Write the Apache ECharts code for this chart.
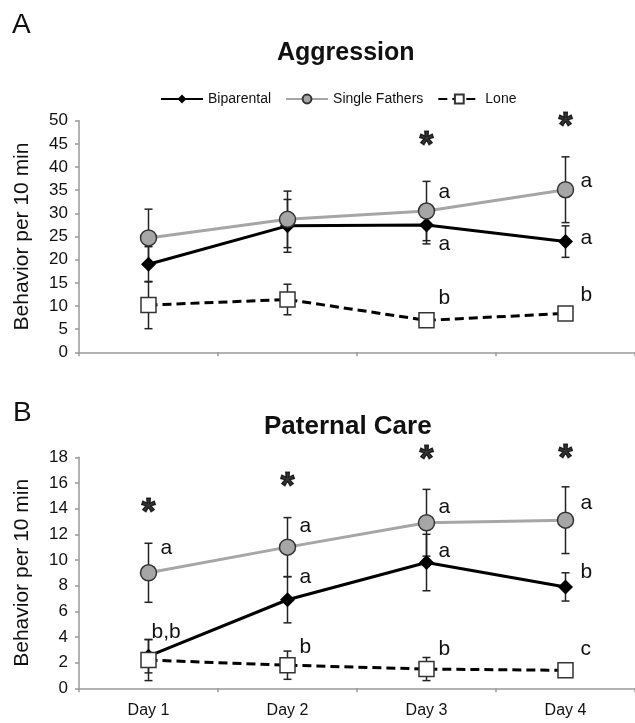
<!DOCTYPE html>
<html>
<head>
<meta charset="utf-8">
<script src="https://cdn.jsdelivr.net/npm/echarts@6/dist/echarts.min.js"></script>
<style>
html,body{margin:0;padding:0;background:#fff;}
#chart{width:635px;height:723px;}
</style>
</head>
<body>
<div id="chart"></div>
<script>
// ---------- data ----------
const categories = ['Day 1', 'Day 2', 'Day 3', 'Day 4'];
const seriesNames = ['Biparental', 'Single Fathers', 'Lone'];

// A: Aggression
const aggBiparental    = [19.0, 27.3, 27.5, 23.9];
const aggBiparentalErr = [3.8, 5.7, 4.1, 3.4];
const aggSingle        = [24.7, 28.7, 30.5, 35.1];
const aggSingleErr     = [6.2, 6.1, 6.4, 7.1];
const aggLone          = [10.2, 11.4, 6.9, 8.4];
const aggLoneErr       = [5.1, 3.3, 0.8, 0.8];
const aggBiparentalLetters = ['', '', 'a', 'a'];
const aggSingleLetters     = ['', '', 'a', 'a'];
const aggLoneLetters       = ['', '', 'b', 'b'];
const aggStarY = [null, null, 46.3, 50.3];
const aggTicks = { min: 0, max: 50, interval: 5 };

// B: Paternal Care
const pcBiparental    = [2.5, 6.9, 9.8, 7.9];
const pcBiparentalErr = [1.3, 1.8, 2.2, 1.1];
const pcSingle        = [9.0, 11.0, 12.9, 13.1];
const pcSingleErr     = [2.3, 2.3, 2.6, 2.6];
const pcLone          = [2.2, 1.8, 1.5, 1.4];
const pcLoneErr       = [1.6, 1.1, 0.9, 0.4];
const pcBiparentalLetters = ['b,b', 'a', 'a', 'b'];
const pcSingleLetters     = ['a', 'a', 'a', 'a'];
const pcLoneLetters       = ['', 'b', 'b', 'c'];
const pcStarY = [14.3, 16.3, 18.4, 18.5];
const pcTicks = { min: 0, max: 18, interval: 2 };

// ---------- styling ----------
const FONT = 'Liberation Sans, Arial, sans-serif';
const styles = {
  'Biparental':     { line: '#000', dash: 'solid', symbol: 'diamond', size: 15, fill: '#000', border: '#000' },
  'Single Fathers': { line: '#a6a6a6', dash: 'solid', symbol: 'circle', size: 16, fill: '#a6a6a6', border: '#333' },
  'Lone':           { line: '#000', dash: [9, 5], symbol: 'rect', size: 15, fill: '#fff', border: '#333' }
};
// letter label offsets (pixels from point)
const letterOffsets = {
  agg: {
    'Biparental':     [[12, 0], [12, 0], [12, 19], [15, -3]],
    'Single Fathers': [[12, -19], [12, -19], [12, -19], [15, -9]],
    'Lone':           [[12, -20], [12, -20], [12, -22], [15, -18]]
  },
  pc: {
    'Biparental':     [[3, -24], [12, -23], [12, -11], [15, -15]],
    'Single Fathers': [[12, -25], [12, -21], [12, -16], [15, -17]],
    'Lone':           [[12, -18], [12, -18], [12, -20], [15, -21]]
  }
};

function errorBarSeries(name, gridIndex, values, errs) {
  return {
    type: 'custom',
    name: name + ' err',
    xAxisIndex: gridIndex, yAxisIndex: gridIndex,
    z: 2, silent: true, clip: false,
    encode: { x: 0, y: 1 },
    data: values.map((v, i) => [i, v, errs[i]]),
    renderItem: function (params, api) {
      const i = api.value(0), v = api.value(1), e = api.value(2);
      const hi = api.coord([i, v + e]);
      const lo = api.coord([i, v - e]);
      const w = 4;
      const st = { stroke: '#222', lineWidth: 1.5 };
      return {
        type: 'group',
        children: [
          { type: 'line', shape: { x1: hi[0], y1: hi[1], x2: lo[0], y2: lo[1] }, style: st },
          { type: 'line', shape: { x1: hi[0] - w, y1: hi[1], x2: hi[0] + w, y2: hi[1] }, style: st },
          { type: 'line', shape: { x1: lo[0] - w, y1: lo[1], x2: lo[0] + w, y2: lo[1] }, style: st }
        ]
      };
    }
  };
}

function lineSeries(name, gridIndex, values, letters, offsets) {
  const s = styles[name];
  return {
    type: 'line',
    name: name,
    xAxisIndex: gridIndex, yAxisIndex: gridIndex,
    z: 3,
    symbol: s.symbol,
    symbolSize: s.size,
    showAllSymbol: true,
    lineStyle: { color: s.line, width: 3, type: s.dash },
    itemStyle: { color: s.fill, borderColor: s.border, borderWidth: s.symbol === 'diamond' ? 0 : 1.5 },
    emphasis: { disabled: true },
    data: values.map((v, i) => ({
      value: v,
      label: {
        show: !!letters[i],
        formatter: letters[i] || '',
        position: 'inside',
        align: 'left',
        verticalAlign: 'middle',
        offset: offsets[i],
        fontSize: 21,
        fontFamily: FONT,
        color: '#111'
      }
    }))
  };
}

function starSeries(gridIndex, starY) {
  return {
    type: 'scatter',
    name: 'sig',
    xAxisIndex: gridIndex, yAxisIndex: gridIndex,
    symbolSize: 1,
    itemStyle: { color: 'rgba(0,0,0,0)' },
    clip: false,
    z: 4,
    silent: true,
    data: starY.map((v, i) => v == null ? null : [i, v]).filter(d => d),
    label: {
      show: true, formatter: '*', position: 'inside',
      fontSize: 36, fontWeight: 'bold', fontFamily: FONT, color: '#000',
      textBorderColor: '#000', textBorderWidth: 1.2,
      offset: [0, 9]
    }
  };
}

const panels = [
  { key: 'agg', vals: [aggBiparental, aggSingle, aggLone], errs: [aggBiparentalErr, aggSingleErr, aggLoneErr],
    letters: [aggBiparentalLetters, aggSingleLetters, aggLoneLetters], stars: aggStarY },
  { key: 'pc', vals: [pcBiparental, pcSingle, pcLone], errs: [pcBiparentalErr, pcSingleErr, pcLoneErr],
    letters: [pcBiparentalLetters, pcSingleLetters, pcLoneLetters], stars: pcStarY }
];

const series = [];
panels.forEach((p, g) => {
  seriesNames.forEach((n, k) => series.push(errorBarSeries(n, g, p.vals[k], p.errs[k])));
  seriesNames.forEach((n, k) => series.push(lineSeries(n, g, p.vals[k], p.letters[k], letterOffsets[p.key][n])));
  series.push(starSeries(g, p.stars));
});

function yAxis(gridIndex, t) {
  return {
    type: 'value', gridIndex: gridIndex,
    min: t.min, max: t.max, interval: t.interval,
    name: 'Behavior per 10 min', nameLocation: 'middle', nameGap: 46,
    nameTextStyle: { fontSize: 21, fontFamily: FONT, color: '#111' },
    axisLine: { show: true, lineStyle: { color: '#999', width: 1.5 } },
    axisTick: { show: true, length: 4, lineStyle: { color: '#999', width: 1.5 } },
    axisLabel: { fontSize: 17, fontFamily: FONT, color: '#111', margin: 11 },
    splitLine: { show: false }
  };
}
function xAxis(gridIndex, showLabels) {
  return {
    type: 'category', gridIndex: gridIndex, data: categories, boundaryGap: true,
    axisLine: { show: true, lineStyle: { color: '#999', width: 1.5 } },
    axisTick: { show: true, length: 4, lineStyle: { color: '#999', width: 1.5 } },
    axisLabel: { show: showLabels, fontSize: 16, fontFamily: FONT, color: '#111', margin: 14 },
    splitLine: { show: false }
  };
}

const option = {
  backgroundColor: '#fff',
  animation: false,
  title: [
    { text: 'A', left: 7, top: 6, textStyle: { fontSize: 28, fontWeight: 'normal', fontFamily: FONT, color: '#111' } },
    { text: 'Aggression', left: 272, top: 36, textStyle: { fontSize: 25, fontWeight: 'bold', fontFamily: FONT, color: '#111' } },
    { text: 'B', left: 8, top: 394, textStyle: { fontSize: 28, fontWeight: 'normal', fontFamily: FONT, color: '#111' } },
    { text: 'Paternal Care', left: 259, top: 409, textStyle: { fontSize: 26, fontWeight: 'bold', fontFamily: FONT, color: '#111' } }
  ],
  legend: {
    data: seriesNames,
    left: 155, top: 87,
    itemWidth: 42, itemHeight: 11, itemGap: 14,
    textStyle: { fontSize: 14, fontFamily: FONT, color: '#111' },
    selectedMode: false
  },
  grid: [
    { left: 79, top: 120.7, width: 557, height: 231.6 },
    { left: 79, top: 457.3, width: 557, height: 231 }
  ],
  xAxis: [xAxis(0, false), xAxis(1, true)],
  yAxis: [yAxis(0, aggTicks), yAxis(1, pcTicks)],
  series: series
};

const chart = echarts.init(document.getElementById('chart'), null, { renderer: 'canvas' });
chart.setOption(option);
</script>
</body>
</html>
